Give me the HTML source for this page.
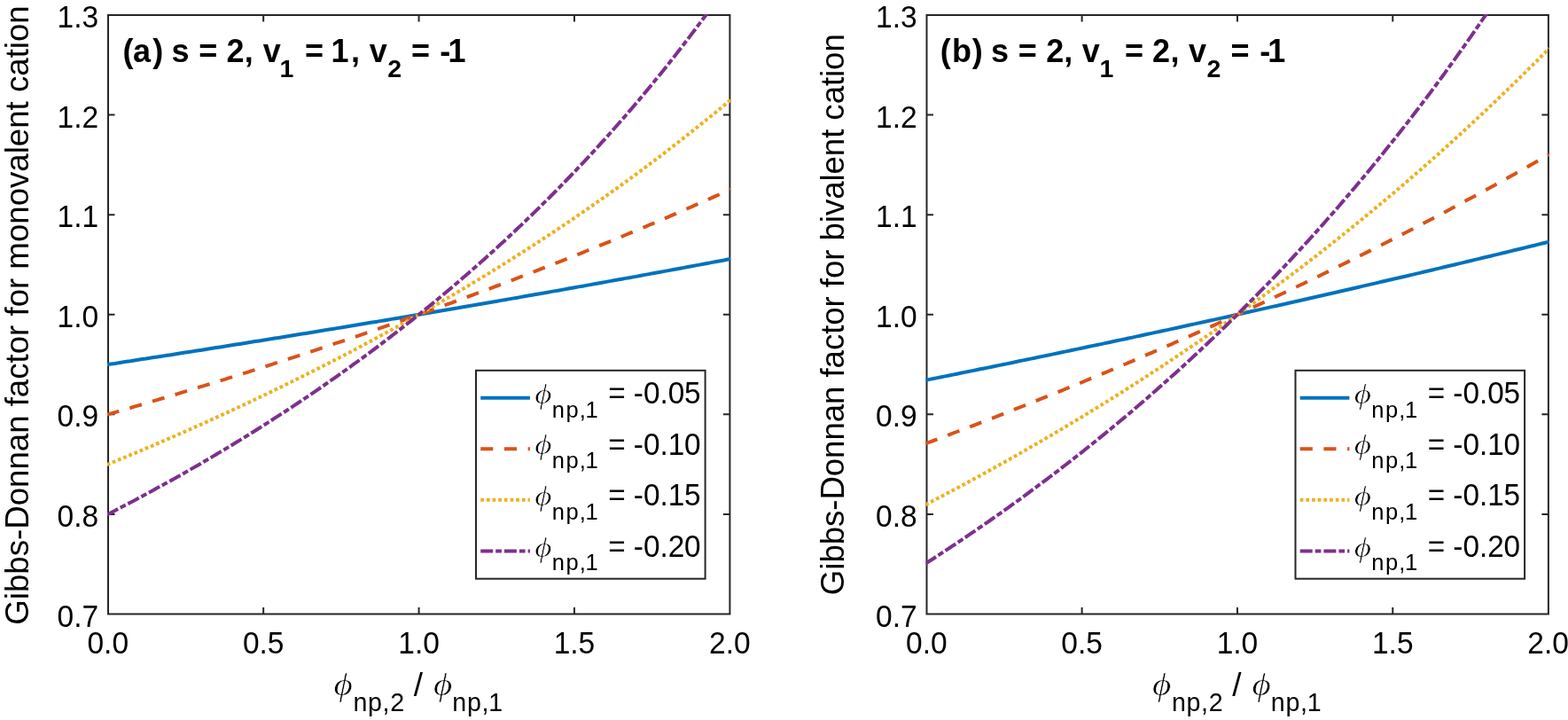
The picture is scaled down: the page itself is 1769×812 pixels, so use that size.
<!DOCTYPE html><html><head><meta charset="utf-8"><title>Gibbs-Donnan factor</title><style>html,body{margin:0;padding:0;background:#fff;width:1769px;height:812px;overflow:hidden}svg{display:block}text{font-family:'Liberation Sans', Arial, Helvetica, sans-serif}</style></head><body>
<svg width="1769" height="812" viewBox="0 0 1769 812">
<rect width="1769" height="812" fill="#fff"/>
<rect x="122" y="17" width="701.4" height="675.5" fill="none" stroke="#262626" stroke-width="2"/>
<path d="M297.17 692.5v-7.5M297.17 17v7.5M472.57 692.5v-7.5M472.57 17v7.5M647.97 692.5v-7.5M647.97 17v7.5M122 579.92h7.5M823.4 579.92h-7.5M122 467.33h7.5M823.4 467.33h-7.5M122 354.75h7.5M823.4 354.75h-7.5M122 242.17h7.5M823.4 242.17h-7.5M122 129.58h7.5M823.4 129.58h-7.5" stroke="#262626" stroke-width="2" fill="none"/>
<defs><clipPath id="c0"><rect x="121" y="16" width="703.4" height="677.5"/></clipPath></defs>
<g clip-path="url(#c0)" fill="none" stroke-width="4" stroke-linejoin="round">
<polyline points="120.7,411.2 125.1,410.5 129.5,409.9 133.9,409.2 138.3,408.5 142.7,407.8 147.1,407.2 151.5,406.5 155.9,405.8 160.3,405.1 164.7,404.5 169.1,403.8 173.5,403.1 177.9,402.4 182.3,401.7 186.7,401.1 191.1,400.4 195.5,399.7 199.9,399.0 204.3,398.3 208.7,397.6 213.1,396.9 217.5,396.3 221.9,395.6 226.3,394.9 230.7,394.2 235.1,393.5 239.5,392.8 243.9,392.1 248.3,391.4 252.7,390.7 257.1,390.0 261.5,389.3 265.9,388.6 270.3,387.9 274.7,387.2 279.1,386.5 283.4,385.8 287.8,385.1 292.2,384.4 296.6,383.7 301.0,383.0 305.4,382.3 309.8,381.6 314.2,380.9 318.6,380.2 323.0,379.5 327.4,378.7 331.8,378.0 336.2,377.3 340.6,376.6 345.0,375.9 349.4,375.2 353.8,374.5 358.2,373.7 362.6,373.0 367.0,372.3 371.4,371.6 375.8,370.9 380.2,370.1 384.6,369.4 389.0,368.7 393.4,368.0 397.8,367.2 402.2,366.5 406.6,365.8 411.0,365.1 415.4,364.3 419.8,363.6 424.2,362.9 428.6,362.1 433.0,361.4 437.4,360.7 441.8,359.9 446.2,359.2 450.6,358.5 455.0,357.7 459.4,357.0 463.8,356.2 468.2,355.5 472.6,354.8 477.0,354.0 481.4,353.3 485.8,352.5 490.2,351.8 494.6,351.0 499.0,350.3 503.4,349.5 507.8,348.8 512.2,348.0 516.6,347.3 520.9,346.5 525.3,345.8 529.7,345.0 534.1,344.3 538.5,343.5 542.9,342.7 547.3,342.0 551.7,341.2 556.1,340.5 560.5,339.7 564.9,338.9 569.3,338.2 573.7,337.4 578.1,336.6 582.5,335.9 586.9,335.1 591.3,334.3 595.7,333.6 600.1,332.8 604.5,332.0 608.9,331.2 613.3,330.5 617.7,329.7 622.1,328.9 626.5,328.1 630.9,327.4 635.3,326.6 639.7,325.8 644.1,325.0 648.5,324.2 652.9,323.4 657.3,322.7 661.7,321.9 666.1,321.1 670.5,320.3 674.9,319.5 679.3,318.7 683.7,317.9 688.1,317.1 692.5,316.3 696.9,315.5 701.3,314.7 705.7,313.9 710.1,313.2 714.5,312.4 718.9,311.6 723.3,310.7 727.7,309.9 732.1,309.1 736.5,308.3 740.9,307.5 745.3,306.7 749.7,305.9 754.1,305.1 758.5,304.3 762.8,303.5 767.2,302.7 771.6,301.9 776.0,301.0 780.4,300.2 784.8,299.4 789.2,298.6 793.6,297.8 798.0,297.0 802.4,296.1 806.8,295.3 811.2,294.5 815.6,293.7 820.0,292.8 824.4,292.0" stroke="#0072BD"/>
<polyline points="120.7,467.6 125.1,466.4 129.5,465.1 133.9,463.8 138.3,462.5 142.7,461.2 147.1,460.0 151.5,458.7 155.9,457.4 160.3,456.1 164.7,454.8 169.1,453.5 173.5,452.2 177.9,450.9 182.3,449.5 186.7,448.2 191.1,446.9 195.5,445.6 199.9,444.3 204.3,442.9 208.7,441.6 213.1,440.3 217.5,438.9 221.9,437.6 226.3,436.2 230.7,434.9 235.1,433.5 239.5,432.2 243.9,430.8 248.3,429.4 252.7,428.1 257.1,426.7 261.5,425.3 265.9,423.9 270.3,422.5 274.7,421.2 279.1,419.8 283.4,418.4 287.8,417.0 292.2,415.6 296.6,414.2 301.0,412.8 305.4,411.4 309.8,409.9 314.2,408.5 318.6,407.1 323.0,405.7 327.4,404.2 331.8,402.8 336.2,401.4 340.6,399.9 345.0,398.5 349.4,397.0 353.8,395.6 358.2,394.1 362.6,392.6 367.0,391.2 371.4,389.7 375.8,388.2 380.2,386.7 384.6,385.3 389.0,383.8 393.4,382.3 397.8,380.8 402.2,379.3 406.6,377.8 411.0,376.3 415.4,374.8 419.8,373.3 424.2,371.7 428.6,370.2 433.0,368.7 437.4,367.2 441.8,365.6 446.2,364.1 450.6,362.5 455.0,361.0 459.4,359.4 463.8,357.9 468.2,356.3 472.6,354.7 477.0,353.2 481.4,351.6 485.8,350.0 490.2,348.4 494.6,346.9 499.0,345.3 503.4,343.7 507.8,342.1 512.2,340.5 516.6,338.8 520.9,337.2 525.3,335.6 529.7,334.0 534.1,332.4 538.5,330.7 542.9,329.1 547.3,327.4 551.7,325.8 556.1,324.1 560.5,322.5 564.9,320.8 569.3,319.2 573.7,317.5 578.1,315.8 582.5,314.1 586.9,312.4 591.3,310.7 595.7,309.1 600.1,307.4 604.5,305.6 608.9,303.9 613.3,302.2 617.7,300.5 622.1,298.8 626.5,297.0 630.9,295.3 635.3,293.6 639.7,291.8 644.1,290.1 648.5,288.3 652.9,286.6 657.3,284.8 661.7,283.0 666.1,281.2 670.5,279.5 674.9,277.7 679.3,275.9 683.7,274.1 688.1,272.3 692.5,270.5 696.9,268.6 701.3,266.8 705.7,265.0 710.1,263.2 714.5,261.3 718.9,259.5 723.3,257.6 727.7,255.8 732.1,253.9 736.5,252.1 740.9,250.2 745.3,248.3 749.7,246.4 754.1,244.6 758.5,242.7 762.8,240.8 767.2,238.9 771.6,236.9 776.0,235.0 780.4,233.1 784.8,231.2 789.2,229.2 793.6,227.3 798.0,225.4 802.4,223.4 806.8,221.4 811.2,219.5 815.6,217.5 820.0,215.5 824.4,213.5" stroke="#D95319" stroke-dasharray="14.1 12.6"/>
<polyline points="120.7,524.1 125.1,522.3 129.5,520.4 133.9,518.6 138.3,516.8 142.7,515.0 147.1,513.1 151.5,511.3 155.9,509.5 160.3,507.6 164.7,505.7 169.1,503.9 173.5,502.0 177.9,500.1 182.3,498.2 186.7,496.3 191.1,494.4 195.5,492.5 199.9,490.6 204.3,488.6 208.7,486.7 213.1,484.7 217.5,482.8 221.9,480.8 226.3,478.9 230.7,476.9 235.1,474.9 239.5,472.9 243.9,470.9 248.3,468.9 252.7,466.9 257.1,464.9 261.5,462.8 265.9,460.8 270.3,458.7 274.7,456.7 279.1,454.6 283.4,452.6 287.8,450.5 292.2,448.4 296.6,446.3 301.0,444.2 305.4,442.1 309.8,439.9 314.2,437.8 318.6,435.7 323.0,433.5 327.4,431.4 331.8,429.2 336.2,427.0 340.6,424.8 345.0,422.6 349.4,420.4 353.8,418.2 358.2,416.0 362.6,413.8 367.0,411.5 371.4,409.3 375.8,407.0 380.2,404.7 384.6,402.5 389.0,400.2 393.4,397.9 397.8,395.6 402.2,393.2 406.6,390.9 411.0,388.6 415.4,386.2 419.8,383.9 424.2,381.5 428.6,379.1 433.0,376.7 437.4,374.3 441.8,371.9 446.2,369.5 450.6,367.1 455.0,364.6 459.4,362.2 463.8,359.7 468.2,357.2 472.6,354.8 477.0,352.3 481.4,349.7 485.8,347.2 490.2,344.7 494.6,342.2 499.0,339.6 503.4,337.0 507.8,334.5 512.2,331.9 516.6,329.3 520.9,326.7 525.3,324.0 529.7,321.4 534.1,318.8 538.5,316.1 542.9,313.4 547.3,310.7 551.7,308.1 556.1,305.3 560.5,302.6 564.9,299.9 569.3,297.1 573.7,294.4 578.1,291.6 582.5,288.8 586.9,286.0 591.3,283.2 595.7,280.4 600.1,277.6 604.5,274.7 608.9,271.8 613.3,269.0 617.7,266.1 622.1,263.2 626.5,260.3 630.9,257.3 635.3,254.4 639.7,251.4 644.1,248.4 648.5,245.4 652.9,242.4 657.3,239.4 661.7,236.4 666.1,233.3 670.5,230.3 674.9,227.2 679.3,224.1 683.7,221.0 688.1,217.9 692.5,214.7 696.9,211.6 701.3,208.4 705.7,205.2 710.1,202.0 714.5,198.8 718.9,195.5 723.3,192.3 727.7,189.0 732.1,185.7 736.5,182.4 740.9,179.1 745.3,175.8 749.7,172.4 754.1,169.0 758.5,165.6 762.8,162.2 767.2,158.8 771.6,155.4 776.0,151.9 780.4,148.4 784.8,144.9 789.2,141.4 793.6,137.9 798.0,134.3 802.4,130.8 806.8,127.2 811.2,123.6 815.6,119.9 820.0,116.3 824.4,112.6" stroke="#EDB120" stroke-dasharray="3.7 2.975"/>
<polyline points="120.7,580.5 125.1,578.2 129.5,575.9 133.9,573.6 138.3,571.3 142.7,569.0 147.1,566.7 151.5,564.4 155.9,562.0 160.3,559.7 164.7,557.3 169.1,554.9 173.5,552.5 177.9,550.1 182.3,547.7 186.7,545.3 191.1,542.9 195.5,540.4 199.9,537.9 204.3,535.5 208.7,533.0 213.1,530.5 217.5,527.9 221.9,525.4 226.3,522.9 230.7,520.3 235.1,517.7 239.5,515.1 243.9,512.5 248.3,509.9 252.7,507.3 257.1,504.6 261.5,502.0 265.9,499.3 270.3,496.6 274.7,493.9 279.1,491.2 283.4,488.5 287.8,485.7 292.2,483.0 296.6,480.2 301.0,477.4 305.4,474.6 309.8,471.7 314.2,468.9 318.6,466.0 323.0,463.2 327.4,460.3 331.8,457.4 336.2,454.5 340.6,451.5 345.0,448.6 349.4,445.6 353.8,442.6 358.2,439.6 362.6,436.6 367.0,433.5 371.4,430.5 375.8,427.4 380.2,424.3 384.6,421.2 389.0,418.0 393.4,414.9 397.8,411.7 402.2,408.5 406.6,405.3 411.0,402.1 415.4,398.8 419.8,395.6 424.2,392.3 428.6,389.0 433.0,385.6 437.4,382.3 441.8,378.9 446.2,375.5 450.6,372.1 455.0,368.7 459.4,365.2 463.8,361.8 468.2,358.3 472.6,354.7 477.0,351.2 481.4,347.6 485.8,344.1 490.2,340.5 494.6,336.8 499.0,333.2 503.4,329.5 507.8,325.8 512.2,322.1 516.6,318.3 520.9,314.5 525.3,310.7 529.7,306.9 534.1,303.1 538.5,299.2 542.9,295.3 547.3,291.4 551.7,287.4 556.1,283.5 560.5,279.5 564.9,275.4 569.3,271.4 573.7,267.3 578.1,263.2 582.5,259.0 586.9,254.9 591.3,250.7 595.7,246.4 600.1,242.2 604.5,237.9 608.9,233.6 613.3,229.2 617.7,224.9 622.1,220.5 626.5,216.0 630.9,211.6 635.3,207.1 639.7,202.5 644.1,198.0 648.5,193.4 652.9,188.7 657.3,184.1 661.7,179.4 666.1,174.6 670.5,169.9 674.9,165.1 679.3,160.2 683.7,155.4 688.1,150.5 692.5,145.5 696.9,140.5 701.3,135.5 705.7,130.5 710.1,125.4 714.5,120.2 718.9,115.1 723.3,109.9 727.7,104.6 732.1,99.3 736.5,94.0 740.9,88.6 745.3,83.2 749.7,77.7 754.1,72.2 758.5,66.7 762.8,61.1 767.2,55.5 771.6,49.8 776.0,44.1 780.4,38.3 784.8,32.5 789.2,26.6 793.6,20.7 798.0,14.8 802.4,8.8 806.8,2.7 811.2,-3.4 815.6,-9.6 820.0,-15.8 824.4,-22.0" stroke="#7E2F8E" stroke-dasharray="14 3 6.7 3"/>
</g>
<text transform="translate(121.77 737) scale(1 1.05)" font-size="33.5" text-anchor="middle" fill="#000">0.0</text>
<text transform="translate(297.17 737) scale(1 1.05)" font-size="33.5" text-anchor="middle" fill="#000">0.5</text>
<text transform="translate(472.57 737) scale(1 1.05)" font-size="33.5" text-anchor="middle" fill="#000">1.0</text>
<text transform="translate(647.97 737) scale(1 1.05)" font-size="33.5" text-anchor="middle" fill="#000">1.5</text>
<text transform="translate(823.37 737) scale(1 1.05)" font-size="33.5" text-anchor="middle" fill="#000">2.0</text>
<text transform="translate(111.1 706.5) scale(1 1.05)" font-size="33.5" text-anchor="end" fill="#000">0.7</text>
<text transform="translate(111.1 593.92) scale(1 1.05)" font-size="33.5" text-anchor="end" fill="#000">0.8</text>
<text transform="translate(111.1 481.33) scale(1 1.05)" font-size="33.5" text-anchor="end" fill="#000">0.9</text>
<text transform="translate(111.1 368.75) scale(1 1.05)" font-size="33.5" text-anchor="end" fill="#000">1.0</text>
<text transform="translate(111.1 256.17) scale(1 1.05)" font-size="33.5" text-anchor="end" fill="#000">1.1</text>
<text transform="translate(111.1 143.58) scale(1 1.05)" font-size="33.5" text-anchor="end" fill="#000">1.2</text>
<text transform="translate(111.1 31) scale(1 1.05)" font-size="33.5" text-anchor="end" fill="#000">1.3</text>
<text x="138.48 150.1 172.28 184.27 193.49 213.52 224.23 245.25 255.39 275.83 285.83 296.85" y="69.5" font-size="36" font-weight="bold" fill="#000">(a) s = 2, v</text>
<text x="315.57" y="87.4" font-size="28.5" font-weight="bold" fill="#000">1</text>
<text x="343.88 364.9 373.56 395.98 405.98 416.75" y="69.5" font-size="36" font-weight="bold" fill="#000">= 1, v</text>
<text x="437.25" y="87.4" font-size="28.5" font-weight="bold" fill="#000">2</text>
<text x="463.98 485 496.22 505.46" y="69.5" font-size="36" font-weight="bold" fill="#000">= -1</text>
<rect x="537" y="417.8" width="258.6" height="234.9" fill="#fff" stroke="#262626" stroke-width="2"/>
<line x1="542.2" y1="448.65" x2="597.9" y2="448.65" stroke="#0072BD" stroke-width="4"/>
<text transform="translate(603.24 454.8) scale(1.12 0.96)" font-size="33.3" style="font-family:&quot;Liberation Serif&quot;, &quot;Times New Roman&quot;, serif;font-style:italic" fill="#000" stroke="#fff" stroke-width="0.6">&#x3D5;</text>
<text x="622.79 638.57 653.86 660.51" y="470.6" font-size="25.5" fill="#000">np,1</text>
<text transform="translate(0 455.1) scale(1 1.06)" x="686.23 705.68 714.86 725.89 744.42 753.69 772.02" y="0" font-size="33.3" fill="#000">= -0.05</text>
<line x1="542.2" y1="506.25" x2="597.9" y2="506.25" stroke="#D95319" stroke-width="4" stroke-dasharray="14.1 12.6"/>
<text transform="translate(603.24 512.4) scale(1.12 0.96)" font-size="33.3" style="font-family:&quot;Liberation Serif&quot;, &quot;Times New Roman&quot;, serif;font-style:italic" fill="#000" stroke="#fff" stroke-width="0.6">&#x3D5;</text>
<text x="622.79 638.57 653.86 660.51" y="528.2" font-size="25.5" fill="#000">np,1</text>
<text transform="translate(0 512.7) scale(1 1.06)" x="686.23 705.68 714.86 725.89 744.42 753.69 772.02" y="0" font-size="33.3" fill="#000">= -0.10</text>
<line x1="542.2" y1="563.85" x2="597.9" y2="563.85" stroke="#EDB120" stroke-width="4" stroke-dasharray="3.7 2.975"/>
<text transform="translate(603.24 570) scale(1.12 0.96)" font-size="33.3" style="font-family:&quot;Liberation Serif&quot;, &quot;Times New Roman&quot;, serif;font-style:italic" fill="#000" stroke="#fff" stroke-width="0.6">&#x3D5;</text>
<text x="622.79 638.57 653.86 660.51" y="585.8" font-size="25.5" fill="#000">np,1</text>
<text transform="translate(0 570.3) scale(1 1.06)" x="686.23 705.68 714.86 725.89 744.42 753.69 772.02" y="0" font-size="33.3" fill="#000">= -0.15</text>
<line x1="542.2" y1="621.45" x2="597.9" y2="621.45" stroke="#7E2F8E" stroke-width="4" stroke-dasharray="14 3 6.7 3"/>
<text transform="translate(603.24 627.6) scale(1.12 0.96)" font-size="33.3" style="font-family:&quot;Liberation Serif&quot;, &quot;Times New Roman&quot;, serif;font-style:italic" fill="#000" stroke="#fff" stroke-width="0.6">&#x3D5;</text>
<text x="622.79 638.57 653.86 660.51" y="643.4" font-size="25.5" fill="#000">np,1</text>
<text transform="translate(0 627.9) scale(1 1.06)" x="686.23 705.68 714.86 725.89 744.42 753.69 772.02" y="0" font-size="33.3" fill="#000">= -0.20</text>
<text transform="translate(376.45 784.1) scale(1.12 0.96)" font-size="36.9" style="font-family:&quot;Liberation Serif&quot;, &quot;Times New Roman&quot;, serif;font-style:italic" fill="#000" stroke="#fff" stroke-width="0.6">&#x3D5;</text>
<text x="398.38 414.98 431.48 440.2" y="801.6" font-size="28.6" fill="#000">np,2</text>
<text x="466.82" y="785.3" font-size="36.9" fill="#000">/</text>
<text transform="translate(489.05 784.1) scale(1.12 0.96)" font-size="36.9" style="font-family:&quot;Liberation Serif&quot;, &quot;Times New Roman&quot;, serif;font-style:italic" fill="#000" stroke="#fff" stroke-width="0.6">&#x3D5;</text>
<text x="510.28 526.88 543.43 551.21" y="801.6" font-size="28.6" fill="#000">np,1</text>
<text transform="translate(31.8 355.5) rotate(-90)" x="0" y="0" font-size="36.7" text-anchor="middle" textLength="698.5" lengthAdjust="spacing" fill="#000">Gibbs-Donnan factor for monovalent cation</text>
<rect x="1045.5" y="17" width="701.4" height="675.5" fill="none" stroke="#262626" stroke-width="2"/>
<path d="M1220.62 692.5v-7.5M1220.62 17v7.5M1395.95 692.5v-7.5M1395.95 17v7.5M1571.27 692.5v-7.5M1571.27 17v7.5M1045.5 579.92h7.5M1746.9 579.92h-7.5M1045.5 467.33h7.5M1746.9 467.33h-7.5M1045.5 354.75h7.5M1746.9 354.75h-7.5M1045.5 242.17h7.5M1746.9 242.17h-7.5M1045.5 129.58h7.5M1746.9 129.58h-7.5" stroke="#262626" stroke-width="2" fill="none"/>
<defs><clipPath id="c1"><rect x="1044.5" y="16" width="703.4" height="677.5"/></clipPath></defs>
<g clip-path="url(#c1)" fill="none" stroke-width="4" stroke-linejoin="round">
<polyline points="1044.2,428.8 1048.6,427.9 1053.0,427.0 1057.4,426.1 1061.8,425.2 1066.2,424.4 1070.6,423.5 1075.0,422.6 1079.4,421.7 1083.8,420.8 1088.2,419.9 1092.6,419.0 1097.0,418.1 1101.4,417.2 1105.8,416.3 1110.2,415.5 1114.6,414.6 1119.0,413.7 1123.4,412.8 1127.8,411.9 1132.2,411.0 1136.6,410.1 1141.0,409.2 1145.4,408.3 1149.8,407.3 1154.2,406.4 1158.6,405.5 1162.9,404.6 1167.3,403.7 1171.7,402.8 1176.1,401.9 1180.5,401.0 1184.9,400.1 1189.3,399.1 1193.7,398.2 1198.1,397.3 1202.5,396.4 1206.9,395.5 1211.3,394.5 1215.7,393.6 1220.1,392.7 1224.5,391.8 1228.9,390.8 1233.3,389.9 1237.7,389.0 1242.1,388.1 1246.5,387.1 1250.9,386.2 1255.3,385.3 1259.7,384.3 1264.1,383.4 1268.5,382.5 1272.9,381.5 1277.3,380.6 1281.6,379.6 1286.0,378.7 1290.4,377.8 1294.8,376.8 1299.2,375.9 1303.6,374.9 1308.0,374.0 1312.4,373.0 1316.8,372.1 1321.2,371.1 1325.6,370.2 1330.0,369.2 1334.4,368.3 1338.8,367.3 1343.2,366.3 1347.6,365.4 1352.0,364.4 1356.4,363.5 1360.8,362.5 1365.2,361.5 1369.6,360.6 1374.0,359.6 1378.4,358.6 1382.8,357.7 1387.2,356.7 1391.6,355.7 1396.0,354.8 1400.3,353.8 1404.7,352.8 1409.1,351.8 1413.5,350.8 1417.9,349.9 1422.3,348.9 1426.7,347.9 1431.1,346.9 1435.5,345.9 1439.9,345.0 1444.3,344.0 1448.7,343.0 1453.1,342.0 1457.5,341.0 1461.9,340.0 1466.3,339.0 1470.7,338.0 1475.1,337.0 1479.5,336.0 1483.9,335.0 1488.3,334.0 1492.7,333.0 1497.1,332.0 1501.5,331.0 1505.9,330.0 1510.3,329.0 1514.6,328.0 1519.0,327.0 1523.4,326.0 1527.8,325.0 1532.2,324.0 1536.6,322.9 1541.0,321.9 1545.4,320.9 1549.8,319.9 1554.2,318.9 1558.6,317.8 1563.0,316.8 1567.4,315.8 1571.8,314.8 1576.2,313.8 1580.6,312.7 1585.0,311.7 1589.4,310.7 1593.8,309.6 1598.2,308.6 1602.6,307.6 1607.0,306.5 1611.4,305.5 1615.8,304.5 1620.2,303.4 1624.6,302.4 1629.0,301.3 1633.3,300.3 1637.7,299.2 1642.1,298.2 1646.5,297.1 1650.9,296.1 1655.3,295.0 1659.7,294.0 1664.1,292.9 1668.5,291.9 1672.9,290.8 1677.3,289.8 1681.7,288.7 1686.1,287.6 1690.5,286.6 1694.9,285.5 1699.3,284.5 1703.7,283.4 1708.1,282.3 1712.5,281.2 1716.9,280.2 1721.3,279.1 1725.7,278.0 1730.1,277.0 1734.5,275.9 1738.9,274.8 1743.3,273.7 1747.7,272.6" stroke="#0072BD"/>
<polyline points="1044.2,500.2 1048.6,498.6 1053.0,497.0 1057.4,495.3 1061.8,493.7 1066.2,492.0 1070.6,490.3 1075.0,488.7 1079.4,487.0 1083.8,485.3 1088.2,483.7 1092.6,482.0 1097.0,480.3 1101.4,478.6 1105.8,476.9 1110.2,475.2 1114.6,473.5 1119.0,471.8 1123.4,470.1 1127.8,468.4 1132.2,466.6 1136.6,464.9 1141.0,463.2 1145.4,461.4 1149.8,459.7 1154.2,458.0 1158.6,456.2 1162.9,454.5 1167.3,452.7 1171.7,450.9 1176.1,449.2 1180.5,447.4 1184.9,445.6 1189.3,443.9 1193.7,442.1 1198.1,440.3 1202.5,438.5 1206.9,436.7 1211.3,434.9 1215.7,433.1 1220.1,431.3 1224.5,429.5 1228.9,427.6 1233.3,425.8 1237.7,424.0 1242.1,422.1 1246.5,420.3 1250.9,418.5 1255.3,416.6 1259.7,414.7 1264.1,412.9 1268.5,411.0 1272.9,409.2 1277.3,407.3 1281.6,405.4 1286.0,403.5 1290.4,401.6 1294.8,399.7 1299.2,397.8 1303.6,395.9 1308.0,394.0 1312.4,392.1 1316.8,390.2 1321.2,388.3 1325.6,386.3 1330.0,384.4 1334.4,382.5 1338.8,380.5 1343.2,378.6 1347.6,376.6 1352.0,374.6 1356.4,372.7 1360.8,370.7 1365.2,368.7 1369.6,366.8 1374.0,364.8 1378.4,362.8 1382.8,360.8 1387.2,358.8 1391.6,356.8 1396.0,354.8 1400.3,352.7 1404.7,350.7 1409.1,348.7 1413.5,346.6 1417.9,344.6 1422.3,342.6 1426.7,340.5 1431.1,338.4 1435.5,336.4 1439.9,334.3 1444.3,332.2 1448.7,330.2 1453.1,328.1 1457.5,326.0 1461.9,323.9 1466.3,321.8 1470.7,319.7 1475.1,317.6 1479.5,315.4 1483.9,313.3 1488.3,311.2 1492.7,309.0 1497.1,306.9 1501.5,304.7 1505.9,302.6 1510.3,300.4 1514.6,298.3 1519.0,296.1 1523.4,293.9 1527.8,291.7 1532.2,289.5 1536.6,287.3 1541.0,285.1 1545.4,282.9 1549.8,280.7 1554.2,278.5 1558.6,276.3 1563.0,274.0 1567.4,271.8 1571.8,269.5 1576.2,267.3 1580.6,265.0 1585.0,262.8 1589.4,260.5 1593.8,258.2 1598.2,255.9 1602.6,253.6 1607.0,251.3 1611.4,249.0 1615.8,246.7 1620.2,244.4 1624.6,242.1 1629.0,239.8 1633.3,237.4 1637.7,235.1 1642.1,232.7 1646.5,230.4 1650.9,228.0 1655.3,225.6 1659.7,223.3 1664.1,220.9 1668.5,218.5 1672.9,216.1 1677.3,213.7 1681.7,211.3 1686.1,208.9 1690.5,206.4 1694.9,204.0 1699.3,201.6 1703.7,199.1 1708.1,196.7 1712.5,194.2 1716.9,191.7 1721.3,189.3 1725.7,186.8 1730.1,184.3 1734.5,181.8 1738.9,179.3 1743.3,176.8 1747.7,174.3" stroke="#D95319" stroke-dasharray="14.1 12.6"/>
<polyline points="1044.2,569.2 1048.6,566.9 1053.0,564.6 1057.4,562.3 1061.8,560.0 1066.2,557.7 1070.6,555.3 1075.0,553.0 1079.4,550.6 1083.8,548.3 1088.2,545.9 1092.6,543.5 1097.0,541.2 1101.4,538.8 1105.8,536.4 1110.2,533.9 1114.6,531.5 1119.0,529.1 1123.4,526.6 1127.8,524.2 1132.2,521.7 1136.6,519.3 1141.0,516.8 1145.4,514.3 1149.8,511.8 1154.2,509.3 1158.6,506.8 1162.9,504.2 1167.3,501.7 1171.7,499.2 1176.1,496.6 1180.5,494.0 1184.9,491.5 1189.3,488.9 1193.7,486.3 1198.1,483.7 1202.5,481.0 1206.9,478.4 1211.3,475.8 1215.7,473.1 1220.1,470.5 1224.5,467.8 1228.9,465.1 1233.3,462.4 1237.7,459.7 1242.1,457.0 1246.5,454.3 1250.9,451.5 1255.3,448.8 1259.7,446.0 1264.1,443.3 1268.5,440.5 1272.9,437.7 1277.3,434.9 1281.6,432.1 1286.0,429.3 1290.4,426.4 1294.8,423.6 1299.2,420.7 1303.6,417.8 1308.0,415.0 1312.4,412.1 1316.8,409.2 1321.2,406.2 1325.6,403.3 1330.0,400.4 1334.4,397.4 1338.8,394.4 1343.2,391.5 1347.6,388.5 1352.0,385.5 1356.4,382.5 1360.8,379.4 1365.2,376.4 1369.6,373.3 1374.0,370.3 1378.4,367.2 1382.8,364.1 1387.2,361.0 1391.6,357.9 1396.0,354.8 1400.3,351.6 1404.7,348.5 1409.1,345.3 1413.5,342.1 1417.9,338.9 1422.3,335.7 1426.7,332.5 1431.1,329.2 1435.5,326.0 1439.9,322.7 1444.3,319.4 1448.7,316.1 1453.1,312.8 1457.5,309.5 1461.9,306.2 1466.3,302.8 1470.7,299.5 1475.1,296.1 1479.5,292.7 1483.9,289.3 1488.3,285.9 1492.7,282.4 1497.1,279.0 1501.5,275.5 1505.9,272.0 1510.3,268.5 1514.6,265.0 1519.0,261.5 1523.4,258.0 1527.8,254.4 1532.2,250.8 1536.6,247.2 1541.0,243.6 1545.4,240.0 1549.8,236.4 1554.2,232.7 1558.6,229.1 1563.0,225.4 1567.4,221.7 1571.8,218.0 1576.2,214.2 1580.6,210.5 1585.0,206.7 1589.4,202.9 1593.8,199.1 1598.2,195.3 1602.6,191.5 1607.0,187.6 1611.4,183.7 1615.8,179.9 1620.2,176.0 1624.6,172.0 1629.0,168.1 1633.3,164.1 1637.7,160.2 1642.1,156.2 1646.5,152.2 1650.9,148.1 1655.3,144.1 1659.7,140.0 1664.1,135.9 1668.5,131.8 1672.9,127.7 1677.3,123.6 1681.7,119.4 1686.1,115.2 1690.5,111.0 1694.9,106.8 1699.3,102.6 1703.7,98.3 1708.1,94.0 1712.5,89.7 1716.9,85.4 1721.3,81.1 1725.7,76.7 1730.1,72.3 1734.5,68.0 1738.9,63.5 1743.3,59.1 1747.7,54.6" stroke="#EDB120" stroke-dasharray="3.7 2.975"/>
<polyline points="1044.2,635.6 1048.6,632.8 1053.0,630.0 1057.4,627.1 1061.8,624.2 1066.2,621.3 1070.6,618.4 1075.0,615.5 1079.4,612.6 1083.8,609.6 1088.2,606.7 1092.6,603.7 1097.0,600.7 1101.4,597.7 1105.8,594.7 1110.2,591.6 1114.6,588.6 1119.0,585.5 1123.4,582.4 1127.8,579.3 1132.2,576.2 1136.6,573.1 1141.0,569.9 1145.4,566.7 1149.8,563.6 1154.2,560.4 1158.6,557.1 1162.9,553.9 1167.3,550.6 1171.7,547.4 1176.1,544.1 1180.5,540.8 1184.9,537.5 1189.3,534.1 1193.7,530.8 1198.1,527.4 1202.5,524.0 1206.9,520.6 1211.3,517.2 1215.7,513.7 1220.1,510.3 1224.5,506.8 1228.9,503.3 1233.3,499.7 1237.7,496.2 1242.1,492.6 1246.5,489.1 1250.9,485.5 1255.3,481.8 1259.7,478.2 1264.1,474.5 1268.5,470.9 1272.9,467.2 1277.3,463.5 1281.6,459.7 1286.0,456.0 1290.4,452.2 1294.8,448.4 1299.2,444.5 1303.6,440.7 1308.0,436.8 1312.4,432.9 1316.8,429.0 1321.2,425.1 1325.6,421.2 1330.0,417.2 1334.4,413.2 1338.8,409.2 1343.2,405.1 1347.6,401.0 1352.0,397.0 1356.4,392.8 1360.8,388.7 1365.2,384.5 1369.6,380.4 1374.0,376.2 1378.4,371.9 1382.8,367.7 1387.2,363.4 1391.6,359.1 1396.0,354.7 1400.3,350.4 1404.7,346.0 1409.1,341.6 1413.5,337.2 1417.9,332.7 1422.3,328.2 1426.7,323.7 1431.1,319.2 1435.5,314.6 1439.9,310.0 1444.3,305.4 1448.7,300.8 1453.1,296.1 1457.5,291.4 1461.9,286.7 1466.3,281.9 1470.7,277.1 1475.1,272.3 1479.5,267.5 1483.9,262.6 1488.3,257.7 1492.7,252.8 1497.1,247.8 1501.5,242.8 1505.9,237.8 1510.3,232.7 1514.6,227.6 1519.0,222.5 1523.4,217.4 1527.8,212.2 1532.2,207.0 1536.6,201.8 1541.0,196.5 1545.4,191.2 1549.8,185.8 1554.2,180.5 1558.6,175.1 1563.0,169.6 1567.4,164.1 1571.8,158.6 1576.2,153.1 1580.6,147.5 1585.0,141.9 1589.4,136.2 1593.8,130.6 1598.2,124.8 1602.6,119.1 1607.0,113.3 1611.4,107.5 1615.8,101.6 1620.2,95.7 1624.6,89.7 1629.0,83.8 1633.3,77.7 1637.7,71.7 1642.1,65.6 1646.5,59.4 1650.9,53.3 1655.3,47.0 1659.7,40.8 1664.1,34.5 1668.5,28.1 1672.9,21.7 1677.3,15.3 1681.7,8.8 1686.1,2.3 1690.5,-4.2 1694.9,-10.8 1699.3,-17.5 1703.7,-24.2 1708.1,-30.9 1712.5,-37.7 1716.9,-44.5 1721.3,-51.4 1725.7,-58.3 1730.1,-65.2 1734.5,-72.3 1738.9,-79.3 1743.3,-86.4 1747.7,-93.6" stroke="#7E2F8E" stroke-dasharray="14 3 6.7 3"/>
</g>
<text transform="translate(1045.3 737) scale(1 1.05)" font-size="33.5" text-anchor="middle" fill="#000">0.0</text>
<text transform="translate(1220.62 737) scale(1 1.05)" font-size="33.5" text-anchor="middle" fill="#000">0.5</text>
<text transform="translate(1395.95 737) scale(1 1.05)" font-size="33.5" text-anchor="middle" fill="#000">1.0</text>
<text transform="translate(1571.27 737) scale(1 1.05)" font-size="33.5" text-anchor="middle" fill="#000">1.5</text>
<text transform="translate(1746.6 737) scale(1 1.05)" font-size="33.5" text-anchor="middle" fill="#000">2.0</text>
<text transform="translate(1034.6 706.5) scale(1 1.05)" font-size="33.5" text-anchor="end" fill="#000">0.7</text>
<text transform="translate(1034.6 593.92) scale(1 1.05)" font-size="33.5" text-anchor="end" fill="#000">0.8</text>
<text transform="translate(1034.6 481.33) scale(1 1.05)" font-size="33.5" text-anchor="end" fill="#000">0.9</text>
<text transform="translate(1034.6 368.75) scale(1 1.05)" font-size="33.5" text-anchor="end" fill="#000">1.0</text>
<text transform="translate(1034.6 256.17) scale(1 1.05)" font-size="33.5" text-anchor="end" fill="#000">1.1</text>
<text transform="translate(1034.6 143.58) scale(1 1.05)" font-size="33.5" text-anchor="end" fill="#000">1.2</text>
<text transform="translate(1034.6 31) scale(1 1.05)" font-size="33.5" text-anchor="end" fill="#000">1.3</text>
<text x="1060.63 1074.06 1096.83 1108.82 1118.04 1138.07 1148.78 1169.8 1180.19 1200.33 1210.33 1220.8" y="69.5" font-size="36" font-weight="bold" fill="#000">(b) s = 2, v</text>
<text x="1240.42" y="87.4" font-size="28.5" font-weight="bold" fill="#000">1</text>
<text x="1268.88 1289.9 1300.09 1320.43 1330.43 1340.95" y="69.5" font-size="36" font-weight="bold" fill="#000">= 2, v</text>
<text x="1361.5" y="87.4" font-size="28.5" font-weight="bold" fill="#000">2</text>
<text x="1388.48 1409.5 1421.27 1430.21" y="69.5" font-size="36" font-weight="bold" fill="#000">= -1</text>
<rect x="1461.5" y="417.8" width="258.6" height="234.9" fill="#fff" stroke="#262626" stroke-width="2"/>
<line x1="1466.7" y1="448.65" x2="1522.4" y2="448.65" stroke="#0072BD" stroke-width="4"/>
<text transform="translate(1527.74 454.8) scale(1.12 0.96)" font-size="33.3" style="font-family:&quot;Liberation Serif&quot;, &quot;Times New Roman&quot;, serif;font-style:italic" fill="#000" stroke="#fff" stroke-width="0.6">&#x3D5;</text>
<text x="1547.29 1563.07 1578.36 1585.01" y="470.6" font-size="25.5" fill="#000">np,1</text>
<text transform="translate(0 455.1) scale(1 1.06)" x="1610.73 1630.18 1639.36 1650.39 1668.92 1678.19 1696.52" y="0" font-size="33.3" fill="#000">= -0.05</text>
<line x1="1466.7" y1="506.25" x2="1522.4" y2="506.25" stroke="#D95319" stroke-width="4" stroke-dasharray="14.1 12.6"/>
<text transform="translate(1527.74 512.4) scale(1.12 0.96)" font-size="33.3" style="font-family:&quot;Liberation Serif&quot;, &quot;Times New Roman&quot;, serif;font-style:italic" fill="#000" stroke="#fff" stroke-width="0.6">&#x3D5;</text>
<text x="1547.29 1563.07 1578.36 1585.01" y="528.2" font-size="25.5" fill="#000">np,1</text>
<text transform="translate(0 512.7) scale(1 1.06)" x="1610.73 1630.18 1639.36 1650.39 1668.92 1678.19 1696.52" y="0" font-size="33.3" fill="#000">= -0.10</text>
<line x1="1466.7" y1="563.85" x2="1522.4" y2="563.85" stroke="#EDB120" stroke-width="4" stroke-dasharray="3.7 2.975"/>
<text transform="translate(1527.74 570) scale(1.12 0.96)" font-size="33.3" style="font-family:&quot;Liberation Serif&quot;, &quot;Times New Roman&quot;, serif;font-style:italic" fill="#000" stroke="#fff" stroke-width="0.6">&#x3D5;</text>
<text x="1547.29 1563.07 1578.36 1585.01" y="585.8" font-size="25.5" fill="#000">np,1</text>
<text transform="translate(0 570.3) scale(1 1.06)" x="1610.73 1630.18 1639.36 1650.39 1668.92 1678.19 1696.52" y="0" font-size="33.3" fill="#000">= -0.15</text>
<line x1="1466.7" y1="621.45" x2="1522.4" y2="621.45" stroke="#7E2F8E" stroke-width="4" stroke-dasharray="14 3 6.7 3"/>
<text transform="translate(1527.74 627.6) scale(1.12 0.96)" font-size="33.3" style="font-family:&quot;Liberation Serif&quot;, &quot;Times New Roman&quot;, serif;font-style:italic" fill="#000" stroke="#fff" stroke-width="0.6">&#x3D5;</text>
<text x="1547.29 1563.07 1578.36 1585.01" y="643.4" font-size="25.5" fill="#000">np,1</text>
<text transform="translate(0 627.9) scale(1 1.06)" x="1610.73 1630.18 1639.36 1650.39 1668.92 1678.19 1696.52" y="0" font-size="33.3" fill="#000">= -0.20</text>
<text transform="translate(1300 784.1) scale(1.12 0.96)" font-size="36.9" style="font-family:&quot;Liberation Serif&quot;, &quot;Times New Roman&quot;, serif;font-style:italic" fill="#000" stroke="#fff" stroke-width="0.6">&#x3D5;</text>
<text x="1321.93 1338.53 1355.03 1363.75" y="801.6" font-size="28.6" fill="#000">np,2</text>
<text x="1390.37" y="785.3" font-size="36.9" fill="#000">/</text>
<text transform="translate(1412.6 784.1) scale(1.12 0.96)" font-size="36.9" style="font-family:&quot;Liberation Serif&quot;, &quot;Times New Roman&quot;, serif;font-style:italic" fill="#000" stroke="#fff" stroke-width="0.6">&#x3D5;</text>
<text x="1433.83 1450.43 1466.98 1474.76" y="801.6" font-size="28.6" fill="#000">np,1</text>
<text transform="translate(951.9 354.65) rotate(-90)" x="0" y="0" font-size="36.7" text-anchor="middle" textLength="633" lengthAdjust="spacing" fill="#000">Gibbs-Donnan factor for bivalent cation</text>
</svg></body></html>
